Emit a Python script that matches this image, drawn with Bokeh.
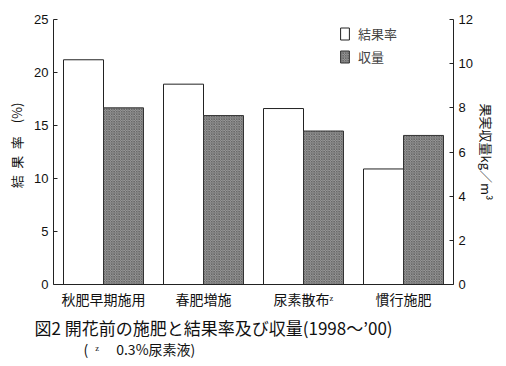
from bokeh.plotting import figure
from bokeh.models import (ColumnDataSource, FactorRange, Range1d, LinearAxis, Title,
                          Legend, LegendItem, FixedTicker)
from bokeh.transform import dodge
from bokeh.embed import file_html
from bokeh.resources import INLINE

categories = ["秋肥早期施用", "春肥増施", "尿素散布ᶻ", "慣行施肥"]
fruit_set_rate = [21.2, 18.9, 16.6, 10.9]      # 結果率 (%)
fruit_yield = [8.0, 7.65, 6.95, 6.75]          # 果実収量 kg/m3
left_ticks = [0, 5, 10, 15, 20, 25]
right_ticks = [0, 2, 4, 6, 8, 10, 12]

JP = "Noto Sans CJK JP"
NUM = "Liberation Sans"

source = ColumnDataSource(dict(cat=categories, rate=fruit_set_rate, yld=fruit_yield))

p = figure(frame_width=400, frame_height=265, x_range=FactorRange(*categories), y_range=Range1d(0, 25),
           output_backend="svg", toolbar_location=None,
           min_border_left=53, min_border_right=47, min_border_top=19, min_border_bottom=82)
p.extra_y_ranges = {"yield": Range1d(0, 12)}
p.outline_line_color = None
p.grid.visible = False
p.background_fill_color = "white"
p.border_fill_color = "white"

r1 = p.vbar(x=dodge("cat", -0.2, range=p.x_range), top="rate", width=0.4, source=source,
            fill_color="white", line_color="#222222", line_width=1)
r2 = p.vbar(x=dodge("cat", 0.2, range=p.x_range), top="yld", width=0.4, source=source,
            y_range_name="yield", fill_color="#9a9a9a", line_color="#333333", line_width=1,
            hatch_pattern="diagonal_cross", hatch_color="#5a5a5a", hatch_scale=2.5, hatch_weight=0.7)

def style_y(ax, label, standoff):
    ax.major_tick_in = 4
    ax.major_tick_out = 0
    ax.minor_tick_line_color = None
    ax.major_label_standoff = 5
    ax.major_label_text_font = NUM
    ax.major_label_text_font_size = "13px"
    ax.major_label_text_color = "#111111"
    ax.axis_line_color = "#222222"
    ax.major_tick_line_color = "#222222"
    ax.axis_label = label
    ax.axis_label_text_font = JP
    ax.axis_label_text_font_size = "13px"
    ax.axis_label_text_font_style = "normal"
    ax.axis_label_text_color = "#111111"
    ax.axis_label_standoff = standoff

ya = p.yaxis[0]
ya.ticker = FixedTicker(ticks=left_ticks)
style_y(ya, "\u2003結\u2002果\u2002率\u2003(%)", 5)

ra = LinearAxis(y_range_name="yield", ticker=FixedTicker(ticks=right_ticks))
style_y(ra, "果実収量kg／m³", 1)
p.add_layout(ra, "right")

xa = p.xaxis[0]
xa.major_tick_line_color = None
xa.major_tick_out = 0
xa.major_tick_in = 0
xa.minor_tick_line_color = None
xa.major_label_standoff = 4
xa.major_label_text_font = JP
xa.major_label_text_font_size = "14px"
xa.major_label_text_color = "#111111"
xa.axis_line_color = "#222222"

legend = Legend(items=[LegendItem(label="結果率", renderers=[r1]),
                       LegendItem(label="収量", renderers=[r2])],
                location=(286, 218), border_line_color=None, background_fill_alpha=0,
                padding=0, margin=0, spacing=4, glyph_width=11, glyph_height=15,
                label_height=15, label_standoff=8, label_text_font=JP,
                label_text_font_size="13px")
p.add_layout(legend)

t1 = Title(text="図2  開花前の施肥と結果率及び収量(1998～’00)", align="left", offset=-19,
           text_font=JP, text_font_size="17px", text_font_style="normal",
           text_color="#111111", standoff=3)
t2 = Title(text="(\u2002ᶻ\u2003 0.3%尿素液)", align="left", offset=30,
           text_font=JP, text_font_size="14px", text_font_style="normal",
           text_color="#111111", standoff=-10)
p.add_layout(t1, "below")
p.add_layout(t2, "below")

open("out.html", "w").write(file_html(p, INLINE))
